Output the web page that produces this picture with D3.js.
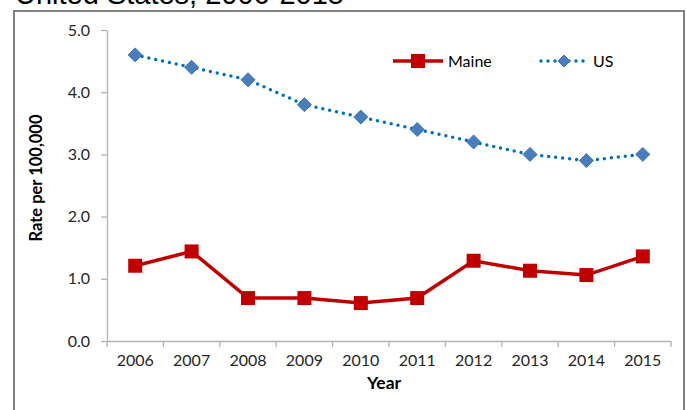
<!DOCTYPE html>
<html>
<head>
<meta charset="utf-8">
<script src="https://cdn.jsdelivr.net/npm/d3@7"></script>
<style>
  html, body { margin: 0; padding: 0; background: #fff; }
  svg { display: block; }
</style>
</head>
<body>
<svg id="chart" width="686" height="410"></svg>
<script>
const years = ["2006","2007","2008","2009","2010","2011","2012","2013","2014","2015"];
const maineValues = [1.21, 1.44, 0.69, 0.69, 0.61, 0.69, 1.29, 1.13, 1.06, 1.36];
const usValues = [4.6, 4.4, 4.2, 3.8, 3.6, 3.4, 3.2, 3.0, 2.9, 3.0];
const yTicks = [0, 1, 2, 3, 4, 5];
const titleText = "United States, 2006-2015";
const yLabel = "Rate per 100,000";
const xLabel = "Year";
const seriesNames = ["Maine", "US"];

const svg = d3.select("#chart");
const font = "Lato, 'Liberation Sans', sans-serif";

// outer frame
svg.append("rect").attr("x", 14).attr("y", 11).attr("width", 670).attr("height", 410)
  .attr("fill", "none").attr("stroke", "#808080").attr("stroke-width", 2);

// title (cut off at top)
svg.append("text").attr("x", 15).attr("y", 4)
  .attr("font-family", "'Liberation Sans', Arial, sans-serif").attr("font-size", 29)
  .attr("fill", "#000").text(titleText);

const x = d3.scaleBand().domain(years).range([107, 671]);
const y = d3.scaleLinear().domain([0, 5]).range([341, 30]);

// y axis
const yAxis = svg.append("g").attr("transform", "translate(107,0)")
  .call(d3.axisLeft(y).tickValues(yTicks).tickFormat(d3.format(".1f")).tickSize(6).tickSizeOuter(0).tickPadding(11));
yAxis.select(".domain").attr("stroke", "#b3b3b3").attr("stroke-width", 1.3);
yAxis.selectAll(".tick line").attr("stroke", "#b3b3b3").attr("stroke-width", 1.3);
yAxis.selectAll(".tick text").attr("font-family", font).attr("font-size", 16).attr("fill", "#262626");

// x axis
const xAxis = svg.append("g").attr("transform", "translate(0,341)")
  .call(d3.axisBottom(x).tickSize(0).tickSizeOuter(0).tickPadding(14));
xAxis.select(".domain").attr("stroke", "#b3b3b3").attr("stroke-width", 1.3);
xAxis.selectAll(".tick text").attr("font-family", font).attr("font-size", 16).attr("fill", "#262626");
// category boundary ticks
const bounds = years.map(d => x(d)).concat([x.range()[1]]);
xAxis.selectAll(".btick").data(bounds).enter().append("line")
  .attr("x1", d => d).attr("x2", d => d).attr("y1", 0).attr("y2", 6)
  .attr("stroke", "#b3b3b3").attr("stroke-width", 1.3);

// axis titles
svg.append("text").attr("transform", "translate(42,178) rotate(-90)")
  .attr("text-anchor", "middle").attr("font-family", font).attr("font-weight", "bold")
  .attr("font-size", 16.5).attr("fill", "#000").text(yLabel);
svg.append("text").attr("x", 384).attr("y", 389)
  .attr("text-anchor", "middle").attr("font-family", font).attr("font-weight", "bold")
  .attr("font-size", 17.5).attr("fill", "#000").text(xLabel);

const cx = d => x(d) + x.bandwidth() / 2;
const lineGen = vals => d3.line().x((d, i) => cx(years[i])).y(d => y(d))(vals);

const red = "#c00000", blueLine = "#0070c0", blueFill = "#4a7ebb";

// US line
svg.append("path").attr("d", lineGen(usValues)).attr("fill", "none")
  .attr("stroke", blueLine).attr("stroke-width", 3.5).attr("stroke-linecap", "round")
  .attr("stroke-dasharray", "0 7");
const diamond = s => `M0,${-s}L${s},0L0,${s}L${-s},0Z`;
svg.selectAll(".us").data(usValues).enter().append("path")
  .attr("d", diamond(7))
  .attr("transform", (d, i) => `translate(${cx(years[i])},${y(d)})`)
  .attr("fill", blueFill).attr("stroke", "#3b74b8").attr("stroke-width", 1);

// Maine line
svg.append("path").attr("d", lineGen(maineValues)).attr("fill", "none")
  .attr("stroke", red).attr("stroke-width", 3.5);
svg.selectAll(".me").data(maineValues).enter().append("rect")
  .attr("x", (d, i) => cx(years[i]) - 7).attr("y", d => y(d) - 7)
  .attr("width", 14).attr("height", 14).attr("fill", red);

// legend
const lg = svg.append("g");
lg.append("line").attr("x1", 393).attr("x2", 443).attr("y1", 61).attr("y2", 61)
  .attr("stroke", red).attr("stroke-width", 3.5);
lg.append("rect").attr("x", 411).attr("y", 54).attr("width", 14).attr("height", 14).attr("fill", red);
lg.append("text").attr("x", 448).attr("y", 66.5).attr("font-family", font).attr("font-size", 16)
  .attr("fill", "#000").text(seriesNames[0]);
lg.append("line").attr("x1", 541).attr("x2", 586).attr("y1", 61).attr("y2", 61)
  .attr("stroke", blueLine).attr("stroke-width", 3.5).attr("stroke-linecap", "round")
  .attr("stroke-dasharray", "0 7");
lg.append("path").attr("d", diamond(6)).attr("transform", "translate(564,61)")
  .attr("fill", blueFill).attr("stroke", "#3b74b8").attr("stroke-width", 1);
lg.append("text").attr("x", 593).attr("y", 66.5).attr("font-family", font).attr("font-size", 16)
  .attr("fill", "#000").text(seriesNames[1]);
</script>
</body>
</html>
